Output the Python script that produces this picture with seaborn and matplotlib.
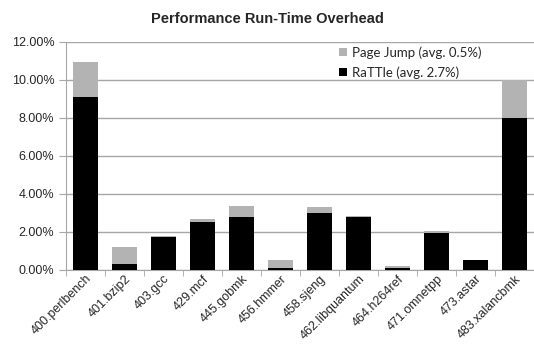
import pandas as pd
import seaborn as sns
import matplotlib.pyplot as plt
from matplotlib.ticker import PercentFormatter, FixedLocator

# Benchmarks and overheads (%)
benchmarks = ["400.perlbench", "401.bzip2", "403.gcc", "429.mcf", "445.gobmk",
              "456.hmmer", "458.sjeng", "462.libquantum", "464.h264ref",
              "471.omnetpp", "473.astar", "483.xalancbmk"]
rattle = [9.08, 0.30, 1.72, 2.55, 2.79, 0.12, 3.02, 2.78, 0.12, 1.95, 0.53, 8.00]
page_jump = [1.89, 0.89, 0.09, 0.12, 0.57, 0.41, 0.30, 0.08, 0.11, 0.11, 0.01, 2.02]

df = pd.DataFrame({"Benchmark": benchmarks, "RaTTle": rattle, "PageJump": page_jump})
df["Total"] = df["RaTTle"] + df["PageJump"]

sns.set_style("white")
plt.rcParams["font.family"] = ["Liberation Sans", "DejaVu Sans"]

fig = plt.figure(figsize=(5.34, 3.44), dpi=100)
ax = fig.add_axes([66 / 534, 1 - 270 / 344, 468 / 534, 228 / 344])

sns.barplot(data=df, x="Benchmark", y="Total", color="#b3b3b3", width=0.62,
            saturation=1, linewidth=0, label="Page Jump (avg. 0.5%)", ax=ax, zorder=3)
sns.barplot(data=df, x="Benchmark", y="RaTTle", color="black", width=0.62,
            saturation=1, linewidth=0, label="RaTTle (avg. 2.7%)", ax=ax, zorder=3)

ax.set_ylim(0, 12)
ax.set_xlim(-0.5, len(benchmarks) - 0.5)
ax.set_yticks([0, 2, 4, 6, 8, 10, 12])
ax.yaxis.set_major_formatter(PercentFormatter(decimals=2))
ax.grid(axis="y", color="#a6a6a6", linewidth=1, zorder=0)
ax.set_xlabel("")
ax.set_ylabel("")

for side in ["top", "right"]:
    ax.spines[side].set_visible(False)
for side in ["left", "bottom"]:
    ax.spines[side].set_color("#a6a6a6")

# category boundary ticks like the original
ax.xaxis.set_minor_locator(FixedLocator([i + 0.5 for i in range(-1, len(benchmarks))]))
ax.tick_params(axis="x", which="major", length=0, labelsize=9, pad=2)
ax.tick_params(axis="x", which="minor", length=4, color="#a6a6a6", bottom=True)
ax.tick_params(axis="y", length=5, color="#a6a6a6", labelsize=9, left=True)
plt.setp(ax.get_xticklabels(), rotation=45, ha="right", rotation_mode="anchor")

fig.suptitle("Performance Run-Time Overhead", x=0.5, y=1 - 12 / 344, va="top",
             fontsize=10.5, fontweight="bold")

leg = ax.legend(loc="upper left", bbox_to_anchor=(334 / 534, 1 - 41 / 344),
                bbox_transform=fig.transFigure, frameon=False,
                handlelength=0.6, handleheight=0.6, handletextpad=0.35,
                labelspacing=0.55, borderaxespad=0,
                prop={"family": ["Lato", "DejaVu Sans"], "size": 9.5})

fig.savefig("out.png", dpi=100)
